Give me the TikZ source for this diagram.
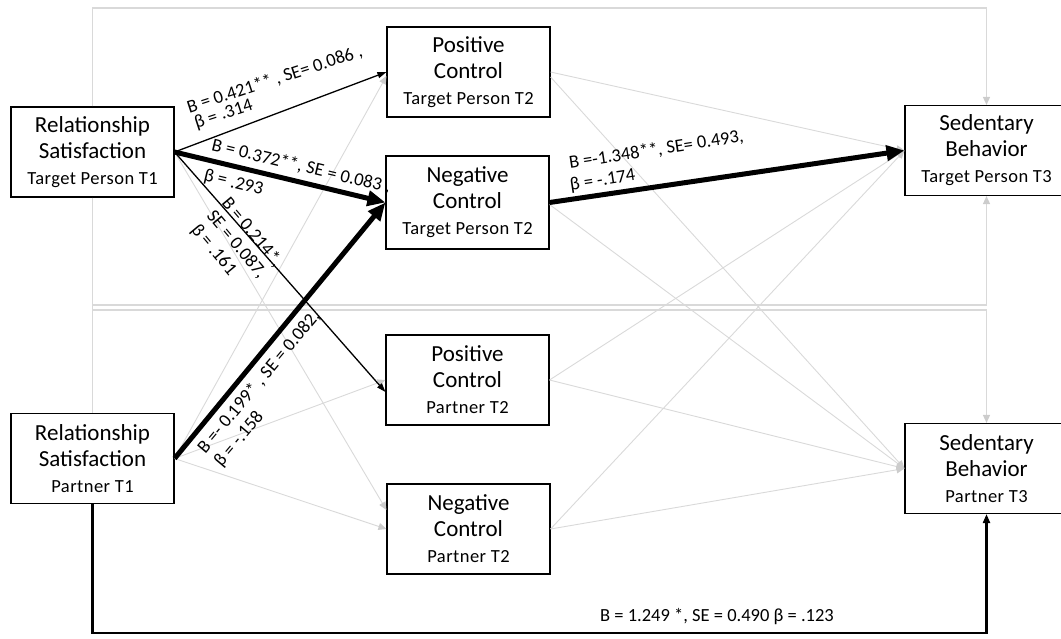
\documentclass[tikz,border=0pt]{standalone}
\usepackage{fontspec}
\setmainfont{Carlito}
\usetikzlibrary{arrows.meta,calc}
\definecolor{lgray}{HTML}{D9D9D9}
\definecolor{tipgray}{HTML}{CCCCCC}
% smaller, slightly spaced third line inside each variable box
\newcommand\boxsub[1]{{\fontsize{18.5}{22}\selectfont\addfontfeature{LetterSpace=2.5}#1}}

\begin{document}
\begin{tikzpicture}[x=1pt,y=-1pt,
  var/.style={draw=black, line width=1.1pt, minimum width=163pt, minimum height=90pt,
              align=center, inner sep=0pt, font=\fontsize{23}{26}\selectfont},
  faint/.style={draw=lgray, line width=0.9pt, -{Triangle[length=8pt,width=7pt,color=tipgray]}},
  frame/.style={draw=lgray, line width=1.4pt, -{Triangle[length=8pt,width=7pt,color=tipgray]}},
  thinpath/.style={line width=1.3pt, -{Triangle[length=9pt,width=6pt]}},
  heavy/.style={line width=5pt, -{Triangle[length=18pt,width=15pt]}},
  lbl/.style={font=\fontsize{18.5}{22}\selectfont, inner sep=0pt},
]
\clip (0,0) rectangle (1061,638);

% variables
\node[var] (rst) at (92.5,152) {Relationship\\Satisfaction\\\boxsub{Target Person T1}};
\node[var] (rsp) at (92.5,458.5) {Relationship\\Satisfaction\\\boxsub{Partner T1}};
\node[var] (pct) at (468.5,72) {Positive\\Control\\\boxsub{Target Person T2}};
\node[var, minimum height=93pt] (nct) at (467.5,202.5) {Negative\\Control\\\boxsub{Target Person T2}};
\node[var] (pcp) at (467.5,380) {Positive\\Control\\\boxsub{Partner T2}};
\node[var] (ncp) at (468.5,529) {Negative\\Control\\\boxsub{Partner T2}};
\node[var] (sbt) at (986.5,150.5) {Sedentary\\Behavior\\\boxsub{Target Person T3}};
\node[var] (sbp) at (986.5,468.5) {Sedentary\\Behavior\\\boxsub{Partner T3}};

% non-significant paths (light gray)
\draw[frame] (rst.north) -- (rst.north |- 0,8) -- (sbt.north |- 0,8) -- (sbt.north);
\draw[frame] (rsp.north) -- (rsp.north |- 0,305) -- (sbt.south |- 0,305) -- (sbt.south);
\draw[frame] (rst.south) -- (rst.south |- 0,310) -- (sbp.north |- 0,310) -- (sbp.north);

\draw[faint] (rst.east) -- ($(ncp.west)+(0,-19)$);
\draw[faint] (rsp.east) -- ($(pct.west)+(0,4)$);
\draw[faint] (rsp.east) -- (pcp.west);
\draw[faint] (rsp.east) -- (ncp.west);

\draw[faint] (pct.east) -- (sbt.west);
\draw[faint] ($(pct.east)+(0,5)$) -- (sbp.west);
\draw[faint] ($(nct.east)+(0,2)$) -- (sbp.west);
\draw[faint] (pcp.east) -- (sbt.west);
\draw[faint] (pcp.east) -- (sbp.west);
\draw[faint] (ncp.east) -- (sbt.west);
\draw[faint] (ncp.east) -- (sbp.west);

% significant paths
\draw[heavy] (rsp.east) -- (nct.west);
\draw[heavy] (rst.east) -- (nct.west);
\draw[heavy] (nct.east) -- (sbt.west);
\draw[thinpath] (rst.east) -- (pct.west);
\draw[thinpath] (rst.east) -- ($(pcp.west)+(0,12)$);
\draw[line width=2.2pt, -{Triangle[length=9pt,width=7pt]}]
  (rsp.south) -- (rsp.south |- 0,633) -- (sbp.south |- 0,633) -- (sbp.south);

% path coefficients
\node[lbl, rotate=18, anchor=west] (l1a) at (187.5,108) {B = 0.421** , SE= 0.086 ,};
\node[lbl, rotate=18, anchor=west] (l1b) at (195,124) {β = .314};

\node[lbl, rotate=-13.5, anchor=west] (l2a) at (212,145) {B = 0.372**, SE = 0.083 ,};
\node[lbl, rotate=-13.5, anchor=west] (l2b) at (204,176) {β = .293};

\node[lbl, rotate=-50, anchor=west] (l3a) at (225,200) {B = 0.214*,};
\node[lbl, rotate=-50, anchor=west] (l3b) at (210,213) {SE = 0.087,};
\node[lbl, rotate=-50, anchor=west] (l3c) at (194,227) {β = .161};

\node[lbl, rotate=50, anchor=west] (l4a) at (201,451) {B =- 0.199* , SE = 0.082,};
\node[lbl, rotate=50, anchor=west] (l4b) at (218,465) {β = -.158};

\node[lbl, rotate=8.8, anchor=west] (l5a) at (569,163.5) {B =-1.348**, SE= 0.493,};
\node[lbl, rotate=8.8, anchor=west] (l5b) at (570,186) {β = -.174};

\node[lbl] (l6) at (717,617) {B = 1.249 *, SE = 0.490 β = .123};
\end{tikzpicture}
\end{document}
